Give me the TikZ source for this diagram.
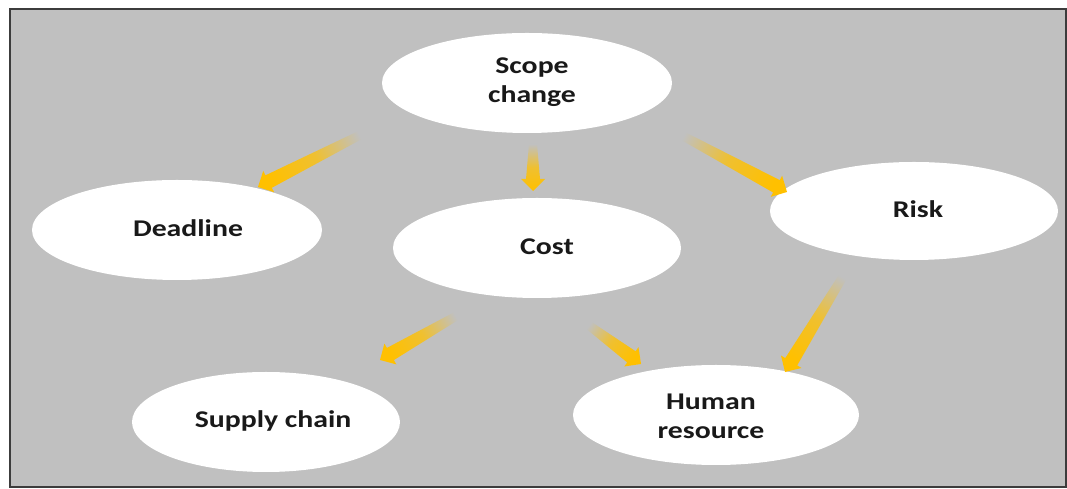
\documentclass[tikz,border=0pt]{standalone}
\usepackage{fontspec}
\setmainfont{Carlito}[FakeStretch=1.24]
\usetikzlibrary{shapes.geometric,calc}
\definecolor{bggray}{HTML}{C0C0C0}
\definecolor{framegray}{HTML}{3C3C3C}
\definecolor{arrorange}{HTML}{FFC000}
\newcommand{\gradarrow}[2]{%
  \pgfmathanglebetweenpoints{\pgfpointanchor{#1}{center}}{\pgfpointanchor{#2}{center}}%
  \pgfmathsetmacro{\arrang}{\pgfmathresult-90}%
  \coordinate (#1-b) at ($(#2)!12pt!(#1)$);
  \shade[bottom color=bggray, top color=arrorange, middle color=arrorange!75!bggray, shading angle=\arrang]
    ($(#1)!4pt!90:(#2)$) -- ($(#1-b)!7pt!90:(#2)$) -- ($(#1-b)!12pt!90:(#2)$) -- (#2)
    -- ($(#1-b)!12pt!-90:(#2)$) -- ($(#1-b)!7pt!-90:(#2)$) -- ($(#1)!4pt!-90:(#2)$) -- cycle;
}
\tikzset{
  ell/.style={ellipse, fill=white, inner sep=0pt},
  lbl/.style={font=\bfseries\fontsize{24}{29}\selectfont, align=center, text=black!90, inner sep=0pt},
  frame/.style={draw=framegray, line width=2.5pt, fill=bggray}
}
\begin{document}
\begin{tikzpicture}[x=1pt,y=1pt]
\useasboundingbox (0,0) rectangle (1067,489);
\fill[white] (0,0) rectangle (1067,489);
\draw[frame] (10,2) rectangle (1066,480);

% ellipses
\node[ell, minimum width=290pt, minimum height=100pt] (scope) at (527,406) {};
\node[ell, minimum width=290pt, minimum height=100pt] (deadline) at (177,259) {};
\node[ell, minimum width=288pt, minimum height=100pt] (cost) at (537,241) {};
\node[ell, minimum width=288pt, minimum height=98pt] (risk) at (914,278) {};
\node[ell, minimum width=268pt, minimum height=100pt] (supply) at (266,67) {};
\node[ell, minimum width=286pt, minimum height=100pt] (human) at (716,74) {};

% labels
\node[lbl] (scope-t) at (532,407) {Scope\\change};
\node[lbl, anchor=base] (deadline-t) at (188,252) {Deadline};
\node[lbl, anchor=base] (cost-t) at (547,234) {Cost};
\node[lbl, anchor=base] (risk-t) at (918,271) {Risk};
\node[lbl, anchor=base] (supply-t) at (273,61) {Supply chain};
\node[lbl] (human-t) at (711,73) {Human\\resource};

% arrow end points
\coordinate (sd-t) at (372,360); \coordinate (sd-h) at (258,302);
\coordinate (sc-t) at (533,345); \coordinate (sc-h) at (533,298);
\coordinate (sr-t) at (670,360); \coordinate (sr-h) at (787,297);
\coordinate (rh-t) at (850,224); \coordinate (rh-h) at (785,117);
\coordinate (cs-t) at (465,178); \coordinate (cs-h) at (380,129);
\coordinate (ch-t) at (583,168); \coordinate (ch-h) at (641,125);

\gradarrow{sd-t}{sd-h}
\gradarrow{sc-t}{sc-h}
\gradarrow{sr-t}{sr-h}
\gradarrow{rh-t}{rh-h}
\gradarrow{cs-t}{cs-h}
\gradarrow{ch-t}{ch-h}
\end{tikzpicture}
\end{document}
